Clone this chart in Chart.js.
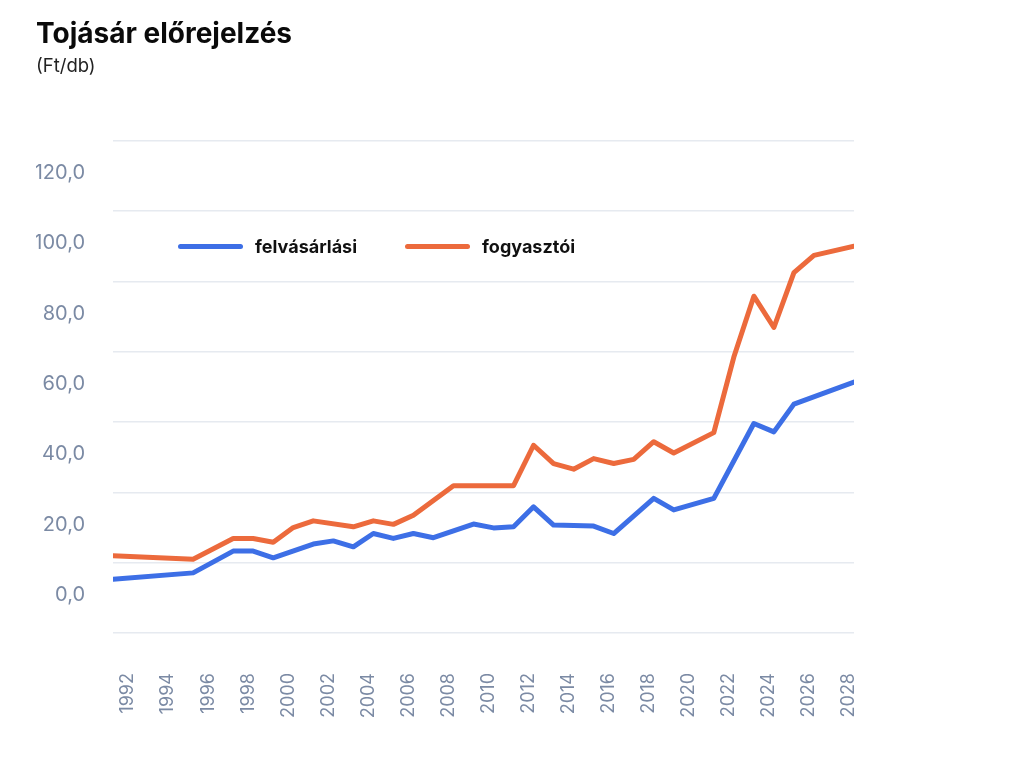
<!DOCTYPE html>
<html lang="hu">
<head>
<meta charset="utf-8">
<title>Tojásár előrejelzés</title>
<script src="https://cdn.jsdelivr.net/npm/chart.js@4.4.1/dist/chart.umd.min.js"></script>
<style>
    body { margin: 0; background: #ffffff; font-family: Inter, sans-serif; }
    #wrap { position: relative; width: 1024px; height: 768px; }
    #legend { position: absolute; left: 178px; top: 236px; display: flex; align-items: center; }
    .leg-item { display: flex; align-items: center; margin-right: 48px; }
    .leg-line { width: 65px; height: 5px; border-radius: 3px; margin-right: 12px; }
    .leg-text { font-family: Inter, sans-serif; font-weight: 700; font-size: 18px; color: #111111; }
</style>
</head>
<body>
<div id="wrap">
    <canvas id="myChart" width="1024" height="768"></canvas>
    <div id="legend"></div>
</div>
<script>
// adatok (Ft/db)
var seriesNames = ["felvásárlási", "fogyasztói"];
var seriesColors = ["#3d6fe6", "#ec6a3c"];

var felvasarlasiEvek = [1991, 1995, 1997, 1998, 1999, 2001, 2002, 2003, 2004, 2005, 2006, 2007, 2009, 2010, 2011, 2012, 2013, 2015, 2016, 2018, 2019, 2021, 2023, 2024, 2025, 2028];
var felvasarlasiAr = [4.5, 6.3, 12.5, 12.5, 10.6, 14.5, 15.4, 13.7, 17.5, 16.1, 17.5, 16.3, 20.2, 19.1, 19.4, 25.1, 19.9, 19.6, 17.5, 27.5, 24.2, 27.5, 48.8, 46.4, 54.3, 60.6];

var fogyasztoiEvek = [1991, 1995, 1997, 1998, 1999, 2000, 2001, 2003, 2004, 2005, 2006, 2008, 2011, 2012, 2013, 2014, 2015, 2016, 2017, 2018, 2019, 2021, 2022, 2023, 2024, 2025, 2026, 2028];
var fogyasztoiAr = [11.2, 10.2, 16.1, 16.1, 15.0, 19.2, 21.1, 19.4, 21.1, 20.1, 22.7, 31.1, 31.1, 42.6, 37.4, 35.8, 38.8, 37.4, 38.6, 43.6, 40.4, 46.2, 67.7, 85.0, 76.1, 91.7, 96.6, 99.2];

var evTickek = [1992, 1994, 1996, 1998, 2000, 2002, 2004, 2006, 2008, 2010, 2012, 2014, 2016, 2018, 2020, 2022, 2024, 2026, 2028];
var arTickek = [0, 20, 40, 60, 80, 100, 120];
var racsVonalak = [-10.8, 9.2, 29.2, 49.2, 69.2, 89.2, 109.2, 129.2];

function toPoints(evek, ertekek) {
    var pts = [];
    for (let i in evek) {
        pts.push({ x: evek[i], y: ertekek[i] });
    }
    return pts;
}

function loadLegend() {
    let html = "";
    for (let i in seriesNames) {
        html += "<div class='leg-item'>";
        html += "<span class='leg-line' style='background:" + seriesColors[i] + "'></span>";
        html += "<span class='leg-text'>" + seriesNames[i] + "</span>";
        html += "</div>";
    }
    document.getElementById("legend").innerHTML = html;
}

Chart.defaults.font.family = "Inter";

var ctx = document.getElementById('myChart').getContext('2d');
var myChart = new Chart(ctx, {
    type: 'line',
    data: {
        datasets: [{
            label: seriesNames[0],
            data: toPoints(felvasarlasiEvek, felvasarlasiAr),
            borderColor: seriesColors[0],
            backgroundColor: seriesColors[0],
            borderWidth: 5,
            pointRadius: 0,
            borderCapStyle: 'round',
            borderJoinStyle: 'round'
        }, {
            label: seriesNames[1],
            data: toPoints(fogyasztoiEvek, fogyasztoiAr),
            borderColor: seriesColors[1],
            backgroundColor: seriesColors[1],
            borderWidth: 5,
            pointRadius: 0,
            borderCapStyle: 'round',
            borderJoinStyle: 'round'
        }]
    },
    options: {
        responsive: false,
        animation: false,
        devicePixelRatio: 1,
        layout: {
            padding: { left: 36, right: 170, top: 0, bottom: 50 }
        },
        plugins: {
            legend: { display: false },
            tooltip: { enabled: false },
            title: {
                display: true,
                text: "Tojásár előrejelzés",
                align: 'start',
                color: '#0a0a0a',
                font: { size: 28, weight: 'bold' },
                padding: { top: 18, bottom: 4 }
            },
            subtitle: {
                display: true,
                text: "(Ft/db)",
                align: 'start',
                color: '#222222',
                font: { size: 18.5 },
                padding: { top: 0, bottom: 63 }
            }
        },
        scales: {
            x: {
                type: 'linear',
                min: 1991,
                max: 2028,
                afterBuildTicks: function (scale) {
                    scale.ticks = evTickek.map(function (v) { return { value: v }; });
                },
                afterFit: function (scale) { scale.height = 85; },
                grid: { display: false, drawTicks: false },
                border: { display: false },
                ticks: {
                    color: '#7b8aa4',
                    font: { size: 18 },
                    minRotation: 90,
                    maxRotation: 90,
                    padding: 40,
                    labelOffset: -5,
                    callback: function (v) { return String(v); }
                }
            },
            y: {
                min: -10.8,
                max: 129.2,
                afterBuildTicks: function (scale) {
                    scale.ticks = arTickek.map(function (v) { return { value: v }; });
                },
                afterFit: function (scale) { scale.width = 77; },
                grid: { display: false, drawTicks: false },
                border: { display: false },
                ticks: {
                    color: '#7b8aa4',
                    font: { size: 20 },
                    padding: 28,
                    callback: function (v) { return v.toFixed(1).replace('.', ','); }
                }
            },
            racs: {
                position: 'left',
                min: -10.8,
                max: 129.2,
                afterBuildTicks: function (scale) {
                    scale.ticks = racsVonalak.map(function (v) { return { value: v }; });
                },
                afterFit: function (scale) { scale.width = 0; },
                grid: { color: '#e6eaf0', lineWidth: 1.5, drawTicks: false },
                border: { display: false },
                ticks: { display: false }
            }
        }
    }
});

loadLegend();
</script>
</body>
</html>
